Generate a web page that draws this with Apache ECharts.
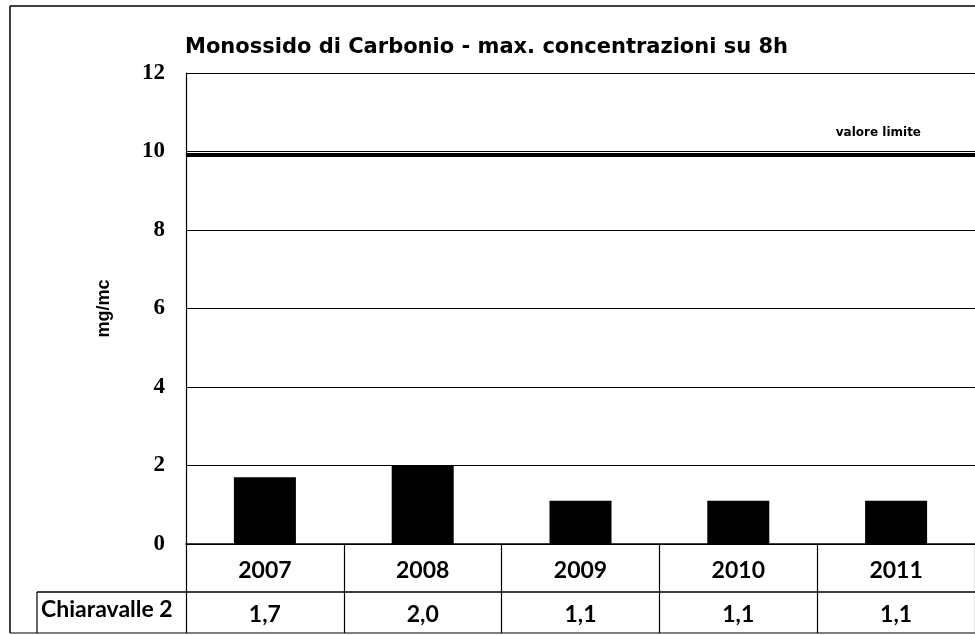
<!DOCTYPE html>
<html>
<head>
<meta charset="utf-8">
<script src="https://cdn.jsdelivr.net/npm/echarts@6/dist/echarts.min.js"></script>
<style>
  html, body { margin: 0; padding: 0; background: #fff; }
  #chart { width: 975px; height: 635px; }
</style>
</head>
<body>
<div id="chart"></div>
<script>
// dati
const years = ['2007', '2008', '2009', '2010', '2011']
const values = [1.7, 2.0, 1.1, 1.1, 1.1]
const seriesName = 'Chiaravalle 2'
const limitValue = 10
const limitLabel = 'valore limite'
const yTicks = [0, 2, 4, 6, 8, 10, 12]

const fmt = v => v.toFixed(1).replace('.', ',')

const chart = echarts.init(document.getElementById('chart'))

chart.setOption({
  animation: false,
  backgroundColor: '#fff',
  title: {
    text: 'Monossido di Carbonio - max. concentrazioni su 8h',
    left: 180,
    top: 32,
    textStyle: {
      fontFamily: 'DejaVu Sans',
      fontWeight: 'bold',
      fontSize: 21,
      color: '#000'
    }
  },
  grid: { left: 186, right: -11, top: 73, bottom: 91 },
  xAxis: {
    type: 'category',
    data: years,
    axisLine: { lineStyle: { color: '#000', width: 1.5 } },
    axisTick: { show: true, length: 89, lineStyle: { color: '#000', width: 1.2 } },
    axisLabel: {
      margin: 5,
      formatter: (v, i) => '{y|' + v + '}\n{v|' + fmt(values[i]) + '}',
      rich: {
        y: { fontFamily: 'Lato', fontWeight: 'bold', fontSize: 23, color: '#000', lineHeight: 44 },
        v: { fontFamily: 'Lato', fontWeight: 'bold', fontSize: 23, color: '#000', lineHeight: 44 }
      }
    }
  },
  yAxis: {
    type: 'value',
    min: yTicks[0],
    max: yTicks[yTicks.length - 1],
    interval: 2,
    name: 'mg/mc',
    nameLocation: 'middle',
    nameGap: 73,
    nameTextStyle: { fontFamily: 'Liberation Sans', fontWeight: 'bold', fontSize: 18, color: '#000' },
    axisLine: { show: true, lineStyle: { color: '#000', width: 1.2 } },
    axisTick: { show: false },
    axisLabel: {
      margin: 21,
      fontFamily: 'Liberation Serif',
      fontWeight: 'bold',
      fontSize: 23,
      color: '#000'
    },
    splitLine: { lineStyle: { color: '#000', width: 1.2 } }
  },
  series: [
    {
      name: seriesName,
      type: 'bar',
      data: values,
      barWidth: 62,
      itemStyle: { color: '#000' },
      markLine: {
        symbol: 'none',
        silent: true,
        lineStyle: { color: '#000', width: 4, type: 'solid' },
        label: {
          show: true,
          position: 'insideEndTop',
          formatter: limitLabel,
          distance: [54, 16],
          fontFamily: 'DejaVu Sans',
          fontWeight: 'bold',
          fontSize: 12,
          color: '#000'
        },
        data: [{ yAxis: limitValue - 0.08 }]
      }
    }
  ],
  graphic: [
    // cornice esterna
    { type: 'line', shape: { x1: 10, y1: 6, x2: 975, y2: 6 }, style: { stroke: '#000', lineWidth: 1.5 } },
    { type: 'line', shape: { x1: 10, y1: 6, x2: 10, y2: 633 }, style: { stroke: '#000', lineWidth: 1.5 } },
    // tabella dati
    { type: 'line', shape: { x1: 37, y1: 592, x2: 975, y2: 592 }, style: { stroke: '#000', lineWidth: 1.5 } },
    { type: 'line', shape: { x1: 37, y1: 592, x2: 37, y2: 633 }, style: { stroke: '#000', lineWidth: 1.2 } },
    { type: 'line', shape: { x1: 10, y1: 633, x2: 975, y2: 633 }, style: { stroke: '#000', lineWidth: 1.2 } },
    {
      type: 'text',
      left: 41,
      top: 598,
      style: {
        text: seriesName,
        fontFamily: 'Lato',
        fontWeight: 'bold',
        fontSize: 23,
        fill: '#000'
      }
    }
  ]
})
</script>
</body>
</html>
